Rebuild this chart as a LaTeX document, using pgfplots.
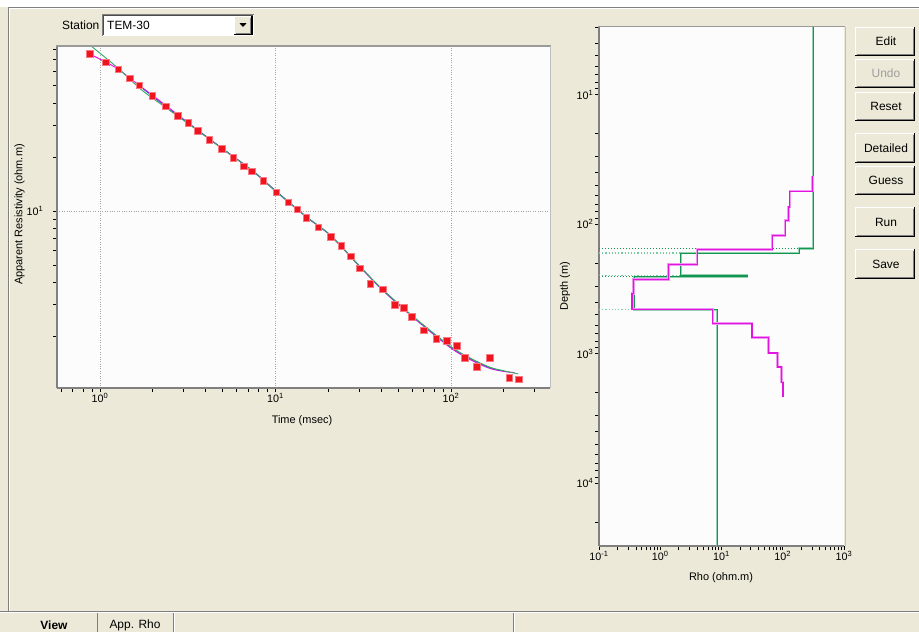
\documentclass[border=0pt]{standalone}
\usepackage{fontspec}
\setmainfont{Liberation Sans}
\usepackage{pgfplots}
\usepackage{pgfplotstable}
\pgfplotsset{compat=1.18}
\definecolor{guibg}{RGB}{236,233,216}
\definecolor{plotbg}{RGB}{252,252,252}
\definecolor{axgray}{RGB}{128,128,128}
\definecolor{gridgray}{RGB}{165,165,165}
\definecolor{ptred}{RGB}{240,20,30}
\definecolor{ptedge}{RGB}{250,120,130}
\definecolor{curvgreen}{RGB}{50,170,100}
\definecolor{darkgreen}{RGB}{20,150,80}
\definecolor{lightgreen}{RGB}{120,200,160}
\definecolor{mag}{RGB}{225,20,225}
\definecolor{maghalo}{RGB}{240,150,240}
\definecolor{purp}{RGB}{90,70,200}
\newcommand\guifont{\fontsize{12}{14}\selectfont}
\newcommand\lblfont{\fontsize{11}{13}\selectfont}
\newcommand\tl[1]{10\textsuperscript{#1}}

\pgfplotstableread{
t rho
0.874 75.3
1.082 67.7
1.271 61.9
1.482 55.1
1.674 50.3
1.987 43.9
2.377 38.5
2.771 34.0
3.186 31.1
3.602 28.1
4.195 24.9
4.955 22.2
5.75 19.8
6.59 17.8
7.35 16.7
8.52 14.8
10.1 12.7
11.8 11.2
13.3 10.2
15.0 9.14
17.5 8.11
20.6 7.18
23.7 6.40
26.8 5.58
30.3 4.79
34.7 3.91
41.0 3.66
47.8 2.99
54.0 2.88
59.9 2.57
69.9 2.16
82.5 1.94
94.5 1.88
108.2 1.77
120.2 1.52
140.6 1.35
166.2 1.52
214.8 1.17
243.1 1.15
}\obsdata

\pgfplotstableread{
t rho
0.885 83.8
1.25 63.5
1.728 47.4
2.4 37.5
3.2 30.6
4.94 22.4
7.47 16.6
10.1 12.8
15.1 9.22
20.6 7.30
30.3 4.89
41.1 3.62
61.0 2.57
98.7 1.76
130 1.50
166.7 1.34
200 1.28
241.7 1.23
}\greencurve

\pgfplotstableread{
t rho
0.874 75.3
1.082 67.7
1.271 61.9
1.674 50.3
2.377 38.8
3.186 31.0
4.94 22.4
7.47 16.6
10.1 12.8
15.1 9.20
20.6 7.28
30.3 4.87
41.1 3.58
61.0 2.54
98.7 1.73
130 1.47
166.7 1.32
200 1.27
230 1.25
}\magcurve

\pgfplotstableread{
t rho
1.674 50.0
2.4 37.9
3.2 30.9
4.94 22.5
7.47 16.7
10.1 12.9
15.1 9.25
20.6 7.32
30.3 4.90
41.1 3.60
61.0 2.56
98.7 1.75
130 1.49
166.7 1.33
200 1.28
}\purpcurve

\pgfplotstableread{
rho depth
307 42.6
307 55.6
130 55.6
130 73.5
124 73.5
124 93.6
110 93.6
110 122.3
67.4 122.3
67.4 156.7
4.01 156.7
4.01 204.8
1.355 204.8
1.355 267.4
0.367 267.4
0.367 342.9
0.346 342.9
0.346 453
7.19 453
7.19 584.5
31.6 584.5
31.6 750
58.6 750
58.6 986
81.5 986
81.5 1265
95.9 1265
95.9 1660
100.8 1660
100.8 2141
}\magmodel

\pgfplotstableread{
rho depth
315 3
315 154
185 154
185 167
2.16 167
2.16 247
26.1 247
26.1 255
0.377 255
0.377 456
8.55 456
8.55 30500
}\greenmodel

\newcommand{\guibtn}[6]{%
  \fill[guibg] (#1,#2) rectangle (#3,#4);
  \draw[white, line width=1bp] (#1+0.5,#4-1) -- (#1+0.5,#2+0.5) -- (#3-1,#2+0.5);
  \draw[black, line width=1.2bp] (#1,#4-0.6) -- (#3-0.6,#4-0.6) -- (#3-0.6,#2);
  \draw[axgray, line width=1bp] (#1+1.5,#4-1.7) -- (#3-1.7,#4-1.7) -- (#3-1.7,#2+1.5);
  \node[text=#6, font=\guifont] at ({(#1+#3)/2+1},{(#2+#4)/2}) {#5};
}

\begin{document}
\begin{tikzpicture}
% ---------- GUI background ----------
\begin{scope}[x=1bp,y=-1bp]
  \fill[guibg] (0,0) rectangle (919,632);
  \fill[white] (0,0) rectangle (919,6.5);
  \draw[axgray, line width=1bp] (8,7) -- (919,7);
  \draw[white, line width=1bp] (9,8) -- (919,8);
  \draw[axgray, line width=1bp] (8,7) -- (8,611);
  \draw[white, line width=1bp] (9,8) -- (9,611);
  % bottom tab bar
  \draw[axgray, line width=1bp] (0,611.5) -- (919,611.5);
  \draw[white, line width=1bp] (0,612.5) -- (919,612.5);
  \draw[axgray, line width=1bp] (97,613) -- (97,632);
  \draw[axgray, line width=1bp] (173,613) -- (173,632);
  \draw[white, line width=1bp] (174,613) -- (174,632);
  \draw[axgray, line width=1bp] (513,613) -- (513,632);
  \draw[white, line width=1bp] (514,613) -- (514,632);
  \node[font=\fontsize{12}{13}\selectfont\bfseries] at (54,625.5) {View};
  \node[font=\fontsize{12}{13}\selectfont] at (135,625.5) {App. Rho};
  % station combo
  \node[anchor=east, font=\guifont, inner sep=0pt] at (99.5,25.5) {Station};
  \fill[white] (102.5,14) rectangle (253.5,36);
  \draw[axgray, line width=1bp] (102.5,36) -- (102.5,14) -- (253.5,14);
  \draw[black!70, line width=0.6bp] (103.5,35) -- (103.5,15) -- (252.5,15);
  \node[anchor=west, font=\guifont, inner sep=0pt] at (107,25.5) {TEM-30};
  \guibtn{234}{16}{252.5}{35}{}{black}
  \fill[black] (239.5,23.2) -- (246.5,23.2) -- (243,27) -- cycle;
  % buttons
  \guibtn{855}{27}{915}{56}{Edit}{black}
  \guibtn{855}{59}{915}{88}{Undo}{black!38}
  \guibtn{855}{92}{915}{121}{Reset}{black}
  \guibtn{855}{133}{915}{163}{Detailed}{black}
  \guibtn{855}{166}{915}{195}{Guess}{black}
  \guibtn{855}{207}{915}{237}{Run}{black}
  \guibtn{855}{249}{915}{279}{Save}{black}
  % axis labels
  \node[font=\lblfont] at (302,421) {Time (msec)};
  \node[font=\lblfont, rotate=90] at (19.5,214.5) {Apparent Resistivity (ohm.m)};
  \node[font=\lblfont] at (721,578) {Rho (ohm.m)};
  \node[font=\lblfont, rotate=90] at (565,286) {Depth (m)};
\end{scope}

% ---------- left: apparent resistivity ----------
\begin{axis}[
  scale only axis, anchor=north west,
  at={(57bp,-47bp)}, width=493bp, height=341bp,
  xmode=log, ymode=log,
  axis x line*=bottom, axis y line*=left,
  axis line style={-, draw=axgray, line width=1.8bp},
  axis background/.style={fill=plotbg},
  tick align=outside,
  major tick length=4bp, minor tick length=4bp,
  tick style={black, line width=0.7bp},
  minor tick style={black, line width=0.7bp},
  tick label style={font=\fontsize{10.8}{11}\selectfont, inner sep=1.5bp},
  xmin=0.569, xmax=366.5, ymin=1.026, ymax=82.4,
  xtick={1,10,100}, xticklabels={\tl{0},\tl{1},\tl{2}},
  minor xtick={0.6,0.7,0.8,0.9,2,3,4,5,6,7,8,9,20,30,40,50,60,70,80,90,200,300},
  ytick={10}, yticklabels={\tl{1}},
  minor ytick={2,3,4,5,6,7,8,9,20,30,40,50,60,70,80},
  yticklabel style={xshift=-8bp},
  xmajorgrids, ymajorgrids,
  grid style={gridgray, dotted, line width=0.8bp},
]
\addplot[only marks, mark=square*, mark size=3.3bp,
  mark options={fill=ptred, draw=ptedge, line width=0.5bp}] table[x=t,y=rho] {\obsdata};
\addplot[mag, line width=1bp, smooth] table[x=t,y=rho] {\magcurve};
\addplot[purp, line width=0.8bp, smooth] table[x=t,y=rho] {\purpcurve};
\addplot[curvgreen, line width=0.9bp, smooth] table[x=t,y=rho] {\greencurve};
\end{axis}

% ---------- right: layered model ----------
\begin{axis}[
  scale only axis, anchor=north west,
  at={(599bp,-27bp)}, width=245bp, height=519bp,
  xmode=log, ymode=log,
  axis x line*=bottom, axis y line*=left,
  axis line style={-, draw=axgray, line width=1.8bp},
  axis background/.style={fill=plotbg},
  tick align=outside,
  major tick length=4bp, minor tick length=4bp,
  tick style={black, line width=0.7bp},
  minor tick style={black, line width=0.7bp},
  tick label style={font=\fontsize{10.8}{11}\selectfont, inner sep=1.5bp},
  xmin=0.1, xmax=1000, ymin=3, ymax=30500, y dir=reverse,
  xtick={0.1,1,10,100,1000}, xticklabels={\tl{-1},\tl{0},\tl{1},\tl{2},\tl{3}},
  minor xtick={0.2,0.3,0.4,0.5,0.6,0.7,0.8,0.9,2,3,4,5,6,7,8,9,20,30,40,50,60,70,80,90,200,300,400,500,600,700,800,900},
  ytick={10,100,1000,10000}, yticklabels={\tl{1},\tl{2},\tl{3},\tl{4}},
  minor ytick={3,4,5,6,7,8,9,20,30,40,50,60,70,80,90,200,300,400,500,600,700,800,900,2000,3000,4000,5000,6000,7000,8000,9000,20000},
]
\addplot[darkgreen, dotted, line width=1bp] coordinates {(0.1,154) (185,154)};
\addplot[lightgreen, dotted, line width=1.2bp] coordinates {(0.1,167) (2.16,167)};
\addplot[lightgreen, dotted, line width=1.2bp] coordinates {(0.1,247) (2.16,247)};
\addplot[darkgreen, dotted, line width=1bp] coordinates {(0.1,255) (0.377,255)};
\addplot[lightgreen, dotted, line width=1.2bp] coordinates {(0.1,456) (0.377,456)};
\addplot[lightgreen, line width=2.2bp, opacity=0.8] table[x=rho,y=depth] {\greenmodel};
\addplot[darkgreen, line width=0.9bp] table[x=rho,y=depth] {\greenmodel};
\addplot[maghalo, line width=2.4bp] table[x=rho,y=depth] {\magmodel};
\addplot[mag, line width=1.3bp] table[x=rho,y=depth] {\magmodel};
\end{axis}

% frame edges of plot areas
\begin{scope}[x=1bp,y=-1bp]
  \draw[axgray!80, line width=1.2bp] (56,46) -- (551,46);
  \draw[black!25, line width=1bp] (550.5,46) -- (550.5,388);
  \draw[axgray!80, line width=1.2bp] (598,26.5) -- (845,26.5);
  \draw[black!25, line width=1bp] (845,26.5) -- (845,546);
\end{scope}
\pgfresetboundingbox
\useasboundingbox (0,0) rectangle (919bp,-632bp);
\end{tikzpicture}
\end{document}
